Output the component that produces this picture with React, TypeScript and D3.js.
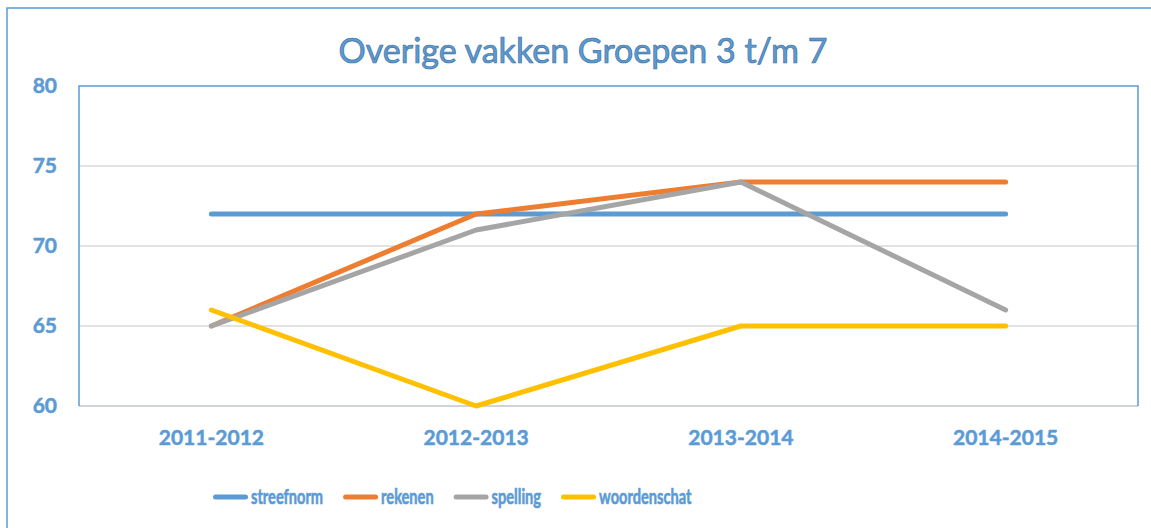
import React, { useEffect, useRef } from "react";
import * as d3 from "d3";

const categories = ["2011-2012", "2012-2013", "2013-2014", "2014-2015"];
const seriesNames = ["streefnorm", "rekenen", "spelling", "woordenschat"];
const streefnorm = [72, 72, 72, 72];
const rekenen = [65, 72, 74, 74];
const spelling = [65, 71, 74, 66];
const woordenschat = [66, 60, 65, 65];
const colors = ["#5b9bd5", "#ed7d31", "#a5a5a5", "#ffc000"];
const yTicks = [60, 65, 70, 75, 80];
const title = "Overige vakken Groepen 3 t/m 7";

const W = 1151;
const H = 528;
const FONT = "Lato, 'Open Sans', sans-serif";
const BLUE = "#5b9bd5";

export default function App() {
  const ref = useRef<SVGSVGElement>(null);

  useEffect(() => {
    const svg = d3.select(ref.current);
    svg.selectAll("*").remove();

    const plot = { left: 79, top: 86, right: 1138, bottom: 406 };
    const x = d3.scaleBand().domain(categories).range([plot.left, plot.right]);
    const y = d3.scaleLinear().domain([60, 80]).range([plot.bottom, plot.top]);

    svg.append("rect").attr("width", W).attr("height", H).attr("fill", "#fff");
    // outer border
    svg.append("rect")
      .attr("x", 7).attr("y", 8).attr("width", W + 20).attr("height", H + 20)
      .attr("fill", "none").attr("stroke", BLUE).attr("stroke-width", 1.5);

    // title
    svg.append("text")
      .attr("x", 583).attr("y", 63)
      .attr("text-anchor", "middle")
      .attr("font-family", FONT)
      .attr("font-size", 34)
      .attr("fill", BLUE)
      .attr("stroke", "#41719c").attr("stroke-width", 0.7)
      .text(title);

    // gridlines
    svg.append("g").selectAll("line")
      .data(yTicks.filter(t => t !== 60 && t !== 80))
      .join("line")
      .attr("x1", plot.left).attr("x2", plot.right)
      .attr("y1", d => y(d)).attr("y2", d => y(d))
      .attr("stroke", "#d9d9d9").attr("stroke-width", 1.5);

    // bottom axis line
    svg.append("line")
      .attr("x1", plot.left).attr("x2", plot.right)
      .attr("y1", y(60)).attr("y2", y(60))
      .attr("stroke", "#d0d4da").attr("stroke-width", 2);

    // plot border (left, top, right)
    svg.append("path")
      .attr("d", `M${plot.left},${y(60)}V${plot.top}H${plot.right}V${y(60)}`)
      .attr("fill", "none").attr("stroke", BLUE).attr("stroke-width", 1.5);

    // y labels
    svg.append("g").selectAll("text")
      .data(yTicks)
      .join("text")
      .attr("x", 57).attr("y", d => y(d))
      .attr("dy", "0.35em")
      .attr("text-anchor", "end")
      .attr("font-family", FONT).attr("font-weight", 700).attr("font-size", 21)
      .attr("fill", BLUE).attr("stroke", BLUE).attr("stroke-width", 0.5)
      .text(d => String(d));

    // x labels
    svg.append("g").selectAll("text")
      .data(categories)
      .join("text")
      .attr("x", d => (x(d) as number) + x.bandwidth() / 2).attr("y", 445)
      .attr("text-anchor", "middle")
      .attr("font-family", FONT).attr("font-weight", 700).attr("font-size", 21)
      .attr("fill", BLUE).attr("stroke", BLUE).attr("stroke-width", 0.5)
      .text(d => d);

    const all = [streefnorm, rekenen, spelling, woordenschat];
    const line = d3.line<number>()
      .x((_, i) => (x(categories[i]) as number) + x.bandwidth() / 2)
      .y(d => y(d));

    svg.append("g").selectAll("path")
      .data(all)
      .join("path")
      .attr("d", d => line(d))
      .attr("fill", "none")
      .attr("stroke", (_, i) => colors[i])
      .attr("stroke-width", 5)
      .attr("stroke-linecap", "round")
      .attr("stroke-linejoin", "round");

    // legend
    const lg = svg.append("g");
    let cursor = 213;
    const symLen = 35;
    const condense = 0.73;
    seriesNames.forEach((name, i) => {
      lg.append("line")
        .attr("x1", cursor + 2.5).attr("x2", cursor + symLen - 2.5)
        .attr("y1", 497).attr("y2", 497)
        .attr("stroke", colors[i]).attr("stroke-width", 5)
        .attr("stroke-linecap", "round");
      const t = lg.append("text")
        .attr("x", cursor + symLen + 3).attr("y", 504)
        .attr("font-family", FONT).attr("font-weight", 700).attr("font-size", 20)
        .attr("fill", BLUE).attr("stroke", BLUE).attr("stroke-width", 0.6)
        .text(name);
      const node = t.node() as SVGTextElement;
      const w = node.getComputedTextLength() * condense;
      t.attr("textLength", w).attr("lengthAdjust", "spacingAndGlyphs");
      cursor += symLen + 3 + w + 20;
    });
  }, []);

  return (
    <svg
      ref={ref}
      width={W}
      height={H}
      style={{ position: "absolute", left: 0, top: 0, display: "block" }}
    />
  );
}
